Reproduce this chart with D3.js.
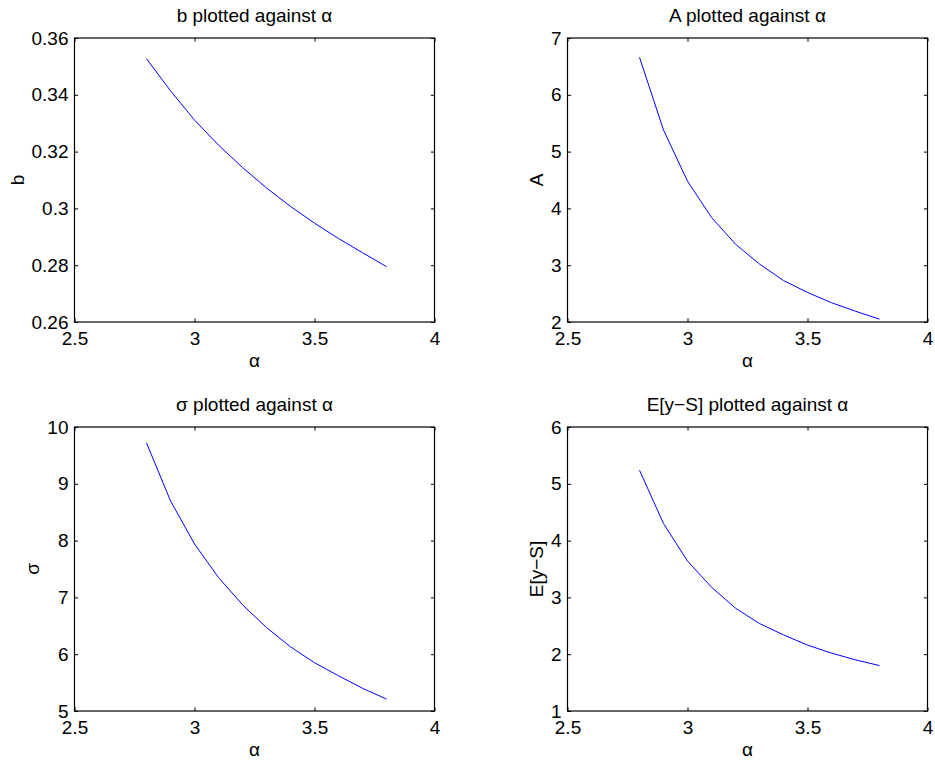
<!DOCTYPE html>
<html>
<head>
<meta charset="utf-8">
<script src="https://cdn.jsdelivr.net/npm/d3@7"></script>
<style>
  html, body { margin: 0; padding: 0; background: #fff; }
  svg { display: block; }
  text { font-family: "Liberation Sans", Arial, Helvetica, sans-serif; fill: #000; }
</style>
</head>
<body>
<svg id="chart" width="935" height="762"></svg>
<script>
// ---- data ----
const alpha = [2.8, 2.9, 3.0, 3.1, 3.2, 3.3, 3.4, 3.5, 3.6, 3.7, 3.8];
const bValues = [0.3527, 0.3414, 0.3311, 0.3223, 0.3144, 0.3072, 0.3007, 0.2948, 0.2894, 0.2844, 0.2795];
const AValues = [6.66, 5.38, 4.48, 3.84, 3.37, 3.02, 2.73, 2.52, 2.34, 2.19, 2.05];
const sigmaValues = [9.72, 8.70, 7.94, 7.35, 6.87, 6.47, 6.13, 5.85, 5.62, 5.40, 5.21];
const EValues = [5.24, 4.30, 3.64, 3.18, 2.81, 2.54, 2.34, 2.16, 2.02, 1.90, 1.80];

const xTicks = [2.5, 3, 3.5, 4];
const bTicks = [0.26, 0.28, 0.30, 0.32, 0.34, 0.36];
const ATicks = [2, 3, 4, 5, 6, 7];
const sigmaTicks = [5, 6, 7, 8, 9, 10];
const ETicks = [1, 2, 3, 4, 5, 6];

const titles = ["b plotted against \u03b1", "A plotted against \u03b1", "\u03c3 plotted against  \u03b1", "E[y\u2212S] plotted against \u03b1"];
const yLabels = ["b", "A", "\u03c3", "E[y\u2212S]"];
const xLabel = "\u03b1";

// ---- layout ----
const panels = [
  { x0: 74.5, x1: 434.5, y0: 38, y1: 322, values: bValues, ticks: bTicks, title: titles[0], ylab: yLabels[0] },
  { x0: 567.5, x1: 927.5, y0: 38, y1: 322, values: AValues, ticks: ATicks, title: titles[1], ylab: yLabels[1] },
  { x0: 74.5, x1: 434.5, y0: 427, y1: 711, values: sigmaValues, ticks: sigmaTicks, title: titles[2], ylab: yLabels[2] },
  { x0: 567.5, x1: 927.5, y0: 427, y1: 711, values: EValues, ticks: ETicks, title: titles[3], ylab: yLabels[3] }
];

const fmt = v => String(+v.toFixed(4));
const svg = d3.select("#chart");
const FS = 19;
const TICK = 3.6;

panels.forEach(p => {
  const x = d3.scaleLinear().domain([xTicks[0], xTicks[xTicks.length - 1]]).range([p.x0, p.x1]);
  const y = d3.scaleLinear().domain([p.ticks[0], p.ticks[p.ticks.length - 1]]).range([p.y1, p.y0]);
  const g = svg.append("g");

  const bottom = g.append("g").attr("transform", `translate(0,${p.y1})`)
    .call(d3.axisBottom(x).tickValues(xTicks).tickFormat(fmt).tickSizeInner(-TICK).tickSizeOuter(0).tickPadding(10));
  const top = g.append("g").attr("transform", `translate(0,${p.y0})`)
    .call(d3.axisTop(x).tickValues(xTicks).tickFormat("").tickSizeInner(-TICK).tickSizeOuter(0));
  const left = g.append("g").attr("transform", `translate(${p.x0},0)`)
    .call(d3.axisLeft(y).tickValues(p.ticks).tickFormat(fmt).tickSizeInner(-TICK).tickSizeOuter(0).tickPadding(6));
  const right = g.append("g").attr("transform", `translate(${p.x1},0)`)
    .call(d3.axisRight(y).tickValues(p.ticks).tickFormat("").tickSizeInner(-TICK).tickSizeOuter(0));

  [bottom, top, left, right].forEach(a => {
    a.select(".domain").remove();
    a.selectAll("line").attr("stroke", "#000").attr("stroke-width", 1);
    a.selectAll("text").attr("font-size", FS).attr("font-family", "Liberation Sans, Arial, sans-serif").attr("fill", "#000");
  });

  g.append("rect")
    .attr("x", p.x0).attr("y", p.y0)
    .attr("width", p.x1 - p.x0).attr("height", p.y1 - p.y0)
    .attr("fill", "none").attr("stroke", "#000").attr("stroke-width", 1.2);

  const line = d3.line().x((d, i) => x(alpha[i])).y(d => y(d));
  g.append("path").datum(p.values)
    .attr("d", line)
    .attr("fill", "none").attr("stroke", "#0000ff").attr("stroke-width", 1);

  g.append("text")
    .attr("x", (p.x0 + p.x1) / 2).attr("y", p.y0 - 16)
    .attr("text-anchor", "middle").attr("font-size", FS)
    .text(p.title);

  g.append("text")
    .attr("x", (p.x0 + p.x1) / 2).attr("y", p.y1 + 45)
    .attr("text-anchor", "middle").attr("font-size", FS)
    .text(xLabel);

  let minLeft = Infinity;
  left.selectAll("text").each(function () {
    const bb = this.getBBox();
    minLeft = Math.min(minLeft, p.x0 + bb.x);
  });
  const lx = minLeft - 8;
  const ly = (p.y0 + p.y1) / 2;
  g.append("text")
    .attr("transform", `translate(${lx},${ly}) rotate(-90)`)
    .attr("text-anchor", "middle").attr("font-size", FS)
    .text(p.ylab);
});
</script>
</body>
</html>
